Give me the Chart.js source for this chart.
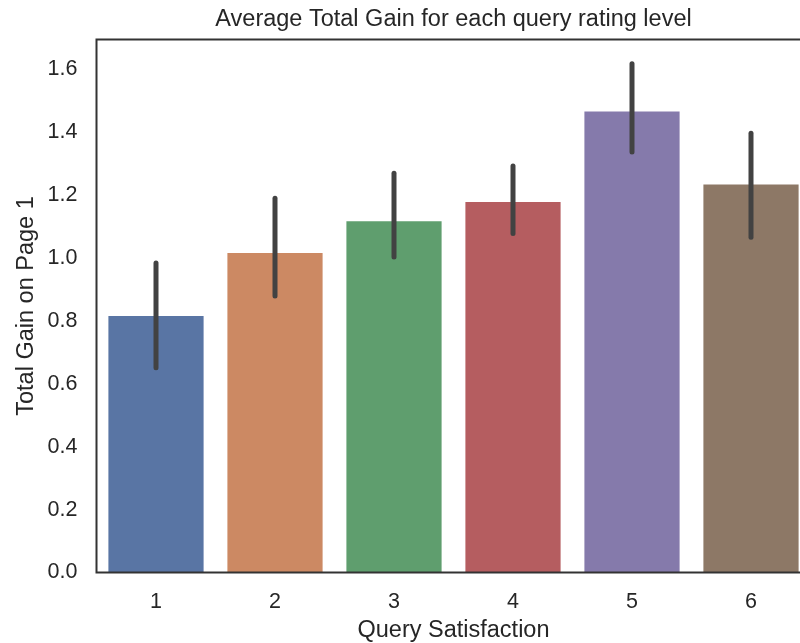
<!DOCTYPE html>
<html><head><meta charset="utf-8">
<script src="https://cdn.jsdelivr.net/npm/chart.js@4.4.0/dist/chart.umd.min.js"></script>
<style>html,body{margin:0;padding:0;overflow:hidden;background:#fff}#wrap{width:884px;height:643px}</style>
</head><body><div id="wrap"><canvas id="c" width="884" height="643"></canvas></div>
<script>
const categories = ['1', '2', '3', '4', '5', '6'];
const meanGain = [0.816, 1.016, 1.117, 1.178, 1.466, 1.234];
const ciLow = [0.651, 0.879, 1.003, 1.078, 1.337, 1.066];
const ciHigh = [0.984, 1.190, 1.270, 1.293, 1.618, 1.397];
const yTicks = [0, 0.2, 0.4, 0.6, 0.8, 1.0, 1.2, 1.4, 1.6];
const barColors = ['#5975a4', '#cc8963', '#5f9e6e', '#b55d60', '#857aab', '#8d7866'];

const FONT = "'Liberation Sans', Arial, sans-serif";
const TXT = '#262626';

const errorBars = {
  id: 'errorBars',
  afterDatasetsDraw(chart) {
    const ctx = chart.ctx, x = chart.scales.x, y = chart.scales.y;
    ctx.save();
    ctx.strokeStyle = '#424242';
    ctx.lineWidth = 5;
    ctx.lineCap = 'round';
    categories.forEach((c, i) => {
      const px = x.getPixelForValue(i);
      ctx.beginPath();
      ctx.moveTo(px, y.getPixelForValue(ciLow[i]));
      ctx.lineTo(px, y.getPixelForValue(ciHigh[i]));
      ctx.stroke();
    });
    ctx.restore();
  },
  afterDraw(chart) {
    const ctx = chart.ctx, a = chart.chartArea;
    ctx.save();
    ctx.strokeStyle = '#333333';
    ctx.lineWidth = 2;
    ctx.strokeRect(a.left, a.top, a.right - a.left, a.bottom - a.top);
    ctx.restore();
  }
};

new Chart(document.getElementById('c'), {
  type: 'bar',
  data: {
    labels: categories,
    datasets: [{
      data: meanGain,
      backgroundColor: barColors,
      borderWidth: 0,
      categoryPercentage: 0.8,
      barPercentage: 1.0
    }]
  },
  options: {
    responsive: false,
    animation: false,
    layout: { padding: { left: 0, right: 73.5, top: 0, bottom: 0 } },
    plugins: {
      legend: { display: false },
      tooltip: { enabled: false },
      title: {
        display: true,
        fullSize: false,
        text: 'Average Total Gain for each query rating level',
        color: TXT,
        font: { family: FONT, size: 23.5, weight: 'normal' },
        padding: { top: 5.3, bottom: 6 }
      }
    },
    scales: {
      x: {
        grid: { display: false, drawTicks: false },
        border: { display: false },
        ticks: { color: TXT, font: { family: FONT, size: 21.5 }, padding: 17 },
        title: { display: true, text: 'Query Satisfaction', color: TXT, font: { family: FONT, size: 23.5 }, padding: { top: 0, bottom: -1.5 } },
        afterFit(s) { s.height = 70.5; }
      },
      y: {
        min: 0,
        max: 1.695,
        grid: { display: false, drawTicks: false },
        border: { display: false },
        afterBuildTicks(s) { s.ticks = yTicks.map(v => ({ value: v })); },
        ticks: { color: TXT, font: { family: FONT, size: 21.5 }, padding: 19, callback: v => Number(v).toFixed(1) },
        title: { display: true, text: 'Total Gain on Page 1', color: TXT, font: { family: FONT, size: 23.5 }, padding: { top: 12, bottom: 0 } },
        afterFit(s) { s.width = 96.5; }
      }
    }
  },
  plugins: [errorBars]
});
</script></body></html>
